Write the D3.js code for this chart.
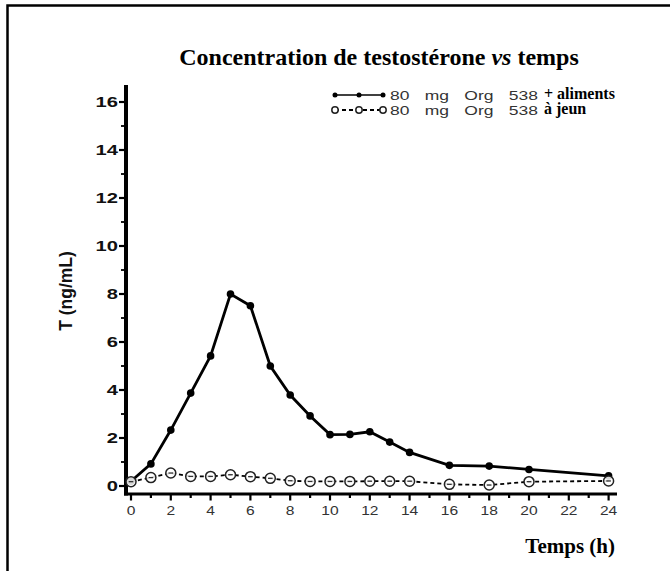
<!DOCTYPE html>
<html>
<head>
<meta charset="utf-8">
<script src="https://cdn.jsdelivr.net/npm/d3@7"></script>
<style>
  body { margin: 0; background: #fff; }
  svg { display: block; }
</style>
</head>
<body>
<div id="chart"></div>
<script>
// hours after dose
let times = [0, 1, 2, 3, 4, 5, 6, 7, 8, 9, 10, 11, 12, 13, 14, 16, 18, 20, 24]
// T (ng/mL), 80 mg Org 538 with food
let with_food = [0.2, 0.92, 2.33, 3.87, 5.42, 8.0, 7.51, 5.0, 3.79, 2.92, 2.14, 2.15, 2.26, 1.83, 1.4, 0.86, 0.83, 0.69, 0.42]
// T (ng/mL), 80 mg Org 538 fasting
let fasting = [0.18, 0.35, 0.54, 0.4, 0.4, 0.47, 0.39, 0.32, 0.22, 0.19, 0.19, 0.19, 0.2, 0.2, 0.2, 0.07, 0.04, 0.18, 0.21]

let x_ticks = [0, 2, 4, 6, 8, 10, 12, 14, 16, 18, 20, 22, 24]
let y_ticks = [0, 2, 4, 6, 8, 10, 12, 14, 16]

let w = 670
let h = 571

let sans = "Liberation Sans, Arial, sans-serif"
let serif = "Liberation Serif, Times New Roman, serif"

let svg = d3.select("#chart").append("svg")
    .attr("width", w)
    .attr("height", h)

// frame (only top and left edges show)
svg.append("path")
    .attr("d", "M7.5,600 L7.5,5.5 L670,5.5")
    .attr("fill", "none")
    .attr("stroke", "#000")
    .attr("stroke-width", 2.5)

let x = d3.scaleLinear().domain([0, 24]).range([131, 608.6])
let y = d3.scaleLinear().domain([0, 16]).range([486, 102])

let axis_x = 126   // y axis line position
let axis_y = 494   // x axis line position

// y axis
let y_axis = svg.append("g").attr("transform", `translate(${axis_x},0)`)
y_axis.append("line")
    .attr("x1", 0).attr("x2", 0)
    .attr("y1", 85).attr("y2", axis_y + 1.5)
    .attr("stroke", "#000").attr("stroke-width", 4)
y_axis.selectAll(".minor")
    .data(d3.range(1, 17, 2))
    .enter().append("line")
    .attr("x1", -5).attr("x2", 0)
    .attr("y1", d => y(d)).attr("y2", d => y(d))
    .attr("stroke", "#000").attr("stroke-width", 1.8)
y_axis.selectAll(".major")
    .data(y_ticks)
    .enter().append("line")
    .attr("x1", -7).attr("x2", 0)
    .attr("y1", d => y(d)).attr("y2", d => y(d))
    .attr("stroke", "#000").attr("stroke-width", 2.2)
y_axis.selectAll("text")
    .data(y_ticks)
    .enter().append("text")
    .attr("transform", d => `translate(-8,${y(d)}) scale(1.3,1)`)
    .attr("text-anchor", "end")
    .attr("dominant-baseline", "central")
    .attr("font-family", sans)
    .attr("font-weight", "bold")
    .attr("font-size", 15.5)
    .attr("fill", "#111")
    .text(d => d)

// x axis
let x_axis = svg.append("g").attr("transform", `translate(0,${axis_y})`)
x_axis.append("line")
    .attr("x1", axis_x - 2).attr("x2", 617)
    .attr("y1", 0).attr("y2", 0)
    .attr("stroke", "#000").attr("stroke-width", 3)
x_axis.selectAll(".minor")
    .data(d3.range(1, 24, 2))
    .enter().append("line")
    .attr("x1", d => x(d)).attr("x2", d => x(d))
    .attr("y1", 0).attr("y2", 4)
    .attr("stroke", "#000").attr("stroke-width", 2.2)
x_axis.selectAll(".major")
    .data(x_ticks)
    .enter().append("line")
    .attr("x1", d => x(d)).attr("x2", d => x(d))
    .attr("y1", 0).attr("y2", 6.5)
    .attr("stroke", "#000").attr("stroke-width", 2.2)
x_axis.selectAll("text")
    .data(x_ticks)
    .enter().append("text")
    .attr("transform", d => `translate(${x(d)},21) scale(1.2,1)`)
    .attr("text-anchor", "middle")
    .attr("font-family", sans)
    .attr("font-size", 13)
    .attr("fill", "#333")
    .text(d => d)

// axis titles
svg.append("text")
    .attr("transform", "translate(72,291) rotate(-90)")
    .attr("text-anchor", "middle")
    .attr("font-family", sans)
    .attr("font-weight", "bold")
    .attr("font-size", 17.5)
    .attr("fill", "#111")
    .text("T (ng/mL)")

svg.append("text")
    .attr("x", 615).attr("y", 553)
    .attr("text-anchor", "end")
    .attr("font-family", serif)
    .attr("font-weight", "bold")
    .attr("font-size", 21)
    .text("Temps (h)")

// title
let title = svg.append("text")
    .attr("x", 379).attr("y", 65)
    .attr("text-anchor", "middle")
    .attr("font-family", serif)
    .attr("font-weight", "bold")
    .attr("font-size", 24)
title.append("tspan").text("Concentration de testostérone ")
title.append("tspan").attr("font-style", "italic").text("vs")
title.append("tspan").text(" temps")

// series
let food_data = times.map((t, i) => [t, with_food[i]])
let fast_data = times.map((t, i) => [t, fasting[i]])
let line = d3.line().x(d => x(d[0])).y(d => y(d[1]))

svg.append("path")
    .datum(fast_data)
    .attr("d", line)
    .attr("fill", "none")
    .attr("stroke", "#000")
    .attr("stroke-width", 1.8)
    .attr("stroke-dasharray", "4,3")

svg.append("path")
    .datum(food_data)
    .attr("d", line)
    .attr("fill", "none")
    .attr("stroke", "#000")
    .attr("stroke-width", 2.8)

svg.selectAll(".food-pt")
    .data(food_data)
    .enter().append("circle")
    .attr("cx", d => x(d[0]))
    .attr("cy", d => y(d[1]))
    .attr("r", 3.8)
    .attr("fill", "#000")

svg.selectAll(".fast-pt")
    .data(fast_data)
    .enter().append("circle")
    .attr("cx", d => x(d[0]))
    .attr("cy", d => y(d[1]))
    .attr("r", 5)
    .attr("fill", "#fff")
    .attr("fill-opacity", 0.85)
    .attr("stroke", "#222")
    .attr("stroke-width", 1.5)

svg.selectAll(".fast-dot")
    .data(fast_data)
    .enter().append("line")
    .attr("x1", d => x(d[0]) - 2.3).attr("x2", d => x(d[0]) + 2.3)
    .attr("y1", d => y(d[1])).attr("y2", d => y(d[1]))
    .attr("stroke", "#333")
    .attr("stroke-width", 1.3)

// legend
let legend = svg.append("g")
let leg_x = [335, 359, 383]
let leg_y = [95, 110]
legend.append("line")
    .attr("x1", leg_x[0]).attr("x2", leg_x[2]).attr("y1", leg_y[0]).attr("y2", leg_y[0])
    .attr("stroke", "#000").attr("stroke-width", 1.6)
legend.selectAll(".lf")
    .data(leg_x).enter().append("circle")
    .attr("cx", d => d).attr("cy", leg_y[0]).attr("r", 2.5).attr("fill", "#000")
legend.append("line")
    .attr("x1", leg_x[0]).attr("x2", leg_x[2]).attr("y1", leg_y[1]).attr("y2", leg_y[1])
    .attr("stroke", "#000").attr("stroke-width", 1.8)
    .attr("stroke-dasharray", "4,3")
legend.selectAll(".lo")
    .data(leg_x).enter().append("circle")
    .attr("cx", d => d).attr("cy", leg_y[1]).attr("r", 3.2)
    .attr("fill", "#fff").attr("stroke", "#222").attr("stroke-width", 1.5)

let leg_labels = ["+ aliments", "à jeun"]
let leg_scale = 1.4
leg_labels.forEach((lab, i) => {
    let t = legend.append("text")
        .attr("transform", `translate(390,${leg_y[i] + 4.5}) scale(${leg_scale},1)`)
        .attr("font-family", sans)
        .attr("font-size", 12.5)
        .attr("fill", "#333")
        .text("80 mg Org 538")
    // widen the word gaps so the label spans the same width as the original
    let len = t.node().getComputedTextLength() * leg_scale
    t.attr("word-spacing", Math.max(0, (148 - len) / 3 / leg_scale))
    legend.append("text")
        .attr("x", 544).attr("y", leg_y[i] + 4)
        .attr("font-family", serif)
        .attr("font-weight", "bold")
        .attr("font-size", 16)
        .attr("fill", "#000")
        .text(lab)
})
</script>
</body>
</html>
